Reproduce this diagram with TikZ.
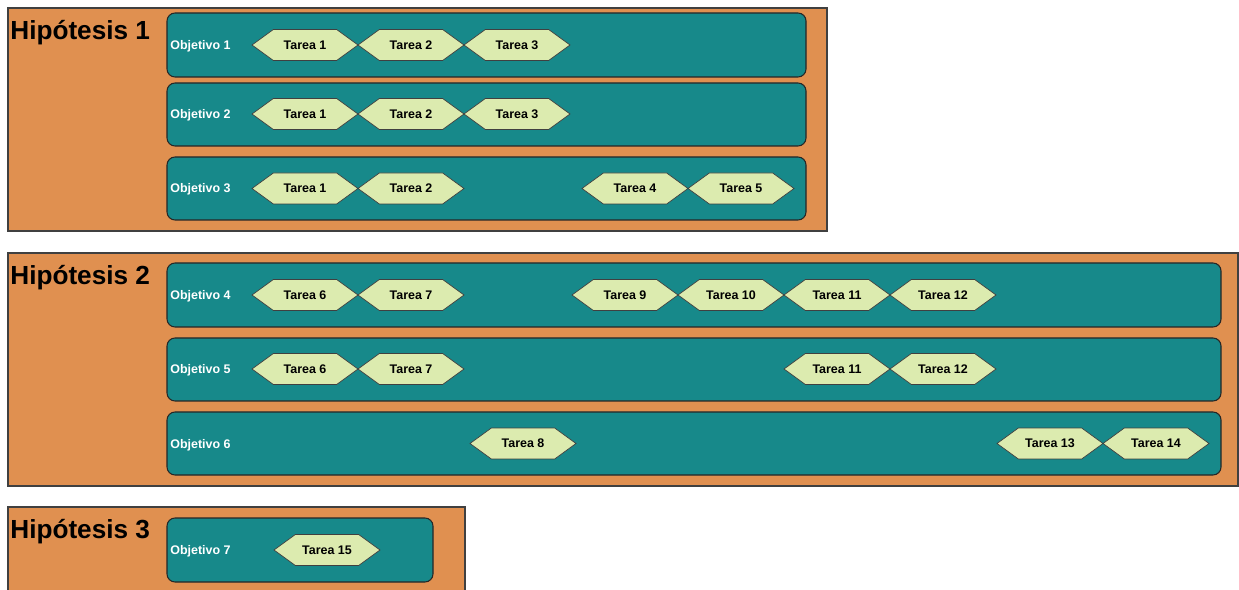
\documentclass[tikz,border=0pt]{standalone}
\usepackage{fontspec}
\setmainfont{Liberation Sans}
\usetikzlibrary{shapes.symbols}
\definecolor{hipofill}{RGB}{224,144,80}
\definecolor{objfill}{RGB}{23,137,138}
\definecolor{tareafill}{RGB}{220,235,175}

\begin{document}
\begin{tikzpicture}[x=0.02cm,y=-0.02cm,
    hipo/.style={draw=black!75,fill=hipofill,line width=0.6pt},
    obj/.style={draw=black!85,fill=objfill,rounded corners=0.16cm,line width=0.6pt},
    titulo/.style={anchor=base west,inner sep=0pt,font=\fontsize{14.9}{16}\selectfont\bfseries},
    objlabel/.style={anchor=base west,inner sep=0pt,text=white,font=\fontsize{7.1}{8}\selectfont\bfseries},
    tarea/.style={shape=signal,signal to=east and west,signal pointer angle=72,draw=black!75,fill=tareafill,
        minimum width=2.12cm,minimum height=0.62cm,inner sep=0pt,font=\fontsize{7.1}{8}\selectfont\bfseries}]
    \useasboundingbox(0,0)rectangle(1239,590);

    \draw[hipo](8,8)rectangle(827,231);
    \draw[hipo](8,253)rectangle(1238,486);
    \draw[hipo](8,507)rectangle(465,600);
    \node[titulo](h1)at(10,39.5){Hipótesis 1};
    \node[titulo](h2)at(10,284.5){Hipótesis 2};
    \node[titulo](h3)at(10,538.5){Hipótesis 3};

    \draw[obj](167,13)rectangle(806,77);
    \draw[obj](167,83)rectangle(806,146);
    \draw[obj](167,157)rectangle(806,220);
    \draw[obj](167,263)rectangle(1221,327);
    \draw[obj](167,338)rectangle(1221,401);
    \draw[obj](167,412)rectangle(1221,475);
    \draw[obj](167,518)rectangle(433,582);

    \foreach \n/\y in {1/49.5,2/118.5,3/193,4/299.5,5/373.5,6/448,7/554.5}
        \node[objlabel](o\n)at(170,\y){Objetivo \n};

    \foreach \n/\x in {1/305,2/411,3/517}{
        \node[tarea](t1-\n)at(\x,45){Tarea \n};
        \node[tarea](t2-\n)at(\x,114){Tarea \n};}
    \foreach \n/\x in {1/305,2/411,4/635,5/741}
        \node[tarea](t3-\n)at(\x,188.5){Tarea \n};
    \foreach \n/\x in {6/305,7/411,9/625,10/731,11/837,12/943}
        \node[tarea](t4-\n)at(\x,295){Tarea \n};
    \foreach \n/\x in {6/305,7/411,11/837,12/943}
        \node[tarea](t5-\n)at(\x,369){Tarea \n};
    \foreach \n/\x in {8/523,13/1050,14/1156}
        \node[tarea](t6-\n)at(\x,443.5){Tarea \n};
    \node[tarea](t7-15)at(327,550){Tarea 15};
\end{tikzpicture}
\end{document}
